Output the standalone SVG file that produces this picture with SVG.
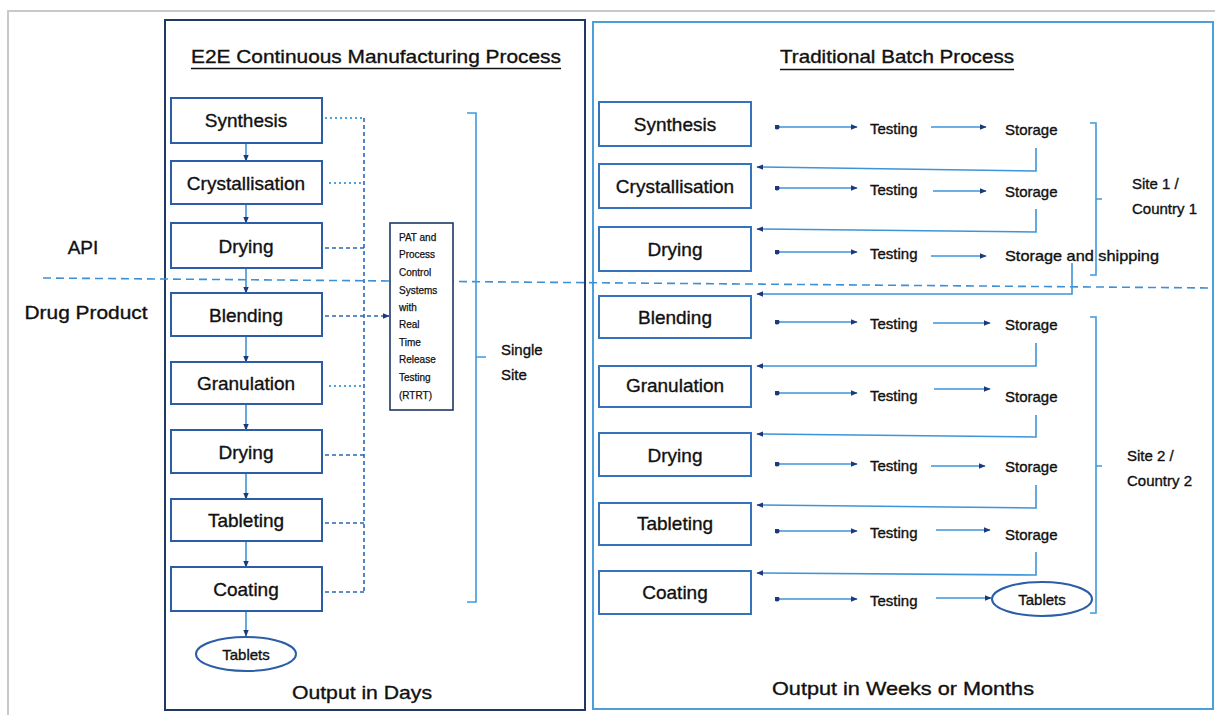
<svg xmlns="http://www.w3.org/2000/svg" width="1215" height="715" viewBox="0 0 1215 715">
  <style>
    text { font-family: "Liberation Sans", Arial, sans-serif; fill: #111; stroke: #111; stroke-width: 0.35; }
    .box { fill: #fff; stroke: #2c5ea8; stroke-width: 2; }
    .rbox { fill: #fff; stroke: #3574bd; stroke-width: 2; }
    .lbl { font-size: 19px; text-anchor: middle; dominant-baseline: central; }
    .small { font-size: 15px; dominant-baseline: central; }
    .pat { font-size: 10px; dominant-baseline: central; stroke-width: 0.25; }
    .title { font-size: 19px; text-anchor: middle; }
    .flow { fill: none; stroke: #3d94d8; stroke-width: 1.6; }
    .dot { fill: none; stroke: #4aa3e0; stroke-width: 2; stroke-dasharray: 2 3; }
    .dash { fill: none; stroke: #2a67b8; stroke-width: 1.6; stroke-dasharray: 4 3; }
    .brk { fill: none; stroke: #3d9ae0; stroke-width: 1.6; }
  </style>
  <defs>
    <marker id="ah" viewBox="0 0 10 10" refX="9" refY="5" markerWidth="7" markerHeight="7" orient="auto" markerUnits="userSpaceOnUse">
      <path d="M0,1 L10,5 L0,9 z" fill="#1c3a7a"/>
    </marker>
    <marker id="dt" viewBox="0 0 10 10" refX="5" refY="5" markerWidth="5" markerHeight="5" markerUnits="userSpaceOnUse">
      <circle cx="5" cy="5" r="5" fill="#1c3a7a"/>
    </marker>
  </defs>

  <!-- outer frame -->
  <path d="M8,715 V11 H1215" fill="none" stroke="#c9c9c9" stroke-width="2"/>

  <!-- panels -->
  <rect id="panel-continuous" x="165" y="20" width="420" height="690" fill="none" stroke="#1f3864" stroke-width="2"/>
  <rect id="panel-batch" x="593" y="22" width="620" height="687" fill="none" stroke="#4ba0dc" stroke-width="2"/>

  <!-- titles -->
  <g id="titles">
    <text class="title" x="376" y="63" textLength="370" lengthAdjust="spacingAndGlyphs">E2E Continuous Manufacturing Process</text>
    <line x1="191" y1="68.5" x2="561" y2="68.5" stroke="#111" stroke-width="1.5"/>
    <text class="title" x="897" y="63" textLength="234" lengthAdjust="spacingAndGlyphs">Traditional Batch Process</text>
    <line x1="780" y1="69.5" x2="1014" y2="69.5" stroke="#111" stroke-width="1.5"/>
  </g>

  <!-- side labels -->
  <g id="side-labels">
    <text class="lbl" x="83" y="247" font-size="20">API</text>
    <text class="lbl" x="86" y="312" textLength="123" lengthAdjust="spacingAndGlyphs">Drug Product</text>
  </g>

  <!-- API / drug product divider -->
  <line x1="43" y1="278" x2="1213" y2="288" stroke="#3d8fd6" stroke-width="1.6" stroke-dasharray="8 5"/>

  <!-- connectors -->
  <g id="connectors">
    <!-- continuous chain -->
    <line class="flow" x1="246" y1="143" x2="246" y2="161" marker-end="url(#ah)"/>
    <line class="flow" x1="246" y1="204" x2="246" y2="223" marker-end="url(#ah)"/>
    <line class="flow" x1="246" y1="268" x2="246" y2="293" marker-end="url(#ah)"/>
    <line class="flow" x1="246" y1="336" x2="246" y2="362" marker-end="url(#ah)"/>
    <line class="flow" x1="246" y1="404" x2="246" y2="430" marker-end="url(#ah)"/>
    <line class="flow" x1="246" y1="473" x2="246" y2="499" marker-end="url(#ah)"/>
    <line class="flow" x1="246" y1="541" x2="246" y2="567" marker-end="url(#ah)"/>
    <line class="flow" x1="246" y1="611" x2="246" y2="636" marker-end="url(#ah)"/>

    <!-- PAT monitoring links -->
    <line class="dash" x1="364" y1="118" x2="364" y2="592"/>
    <line class="dot" x1="325" y1="118" x2="364" y2="118"/>
    <line class="dot" x1="329" y1="183" x2="364" y2="183"/>
    <line class="dash" x1="325" y1="248" x2="364" y2="248"/>
    <line class="dash" x1="325" y1="316" x2="389" y2="316" marker-end="url(#ah)"/>
    <line class="dot" x1="329" y1="386" x2="364" y2="386"/>
    <line class="dash" x1="325" y1="455" x2="364" y2="455"/>
    <line class="dash" x1="325" y1="523" x2="364" y2="523"/>
    <line class="dash" x1="325" y1="592" x2="364" y2="592"/>

    <!-- batch rows: step -> testing -> storage -->
    <g>
      <line class="flow" x1="777" y1="127" x2="857" y2="127" marker-start="url(#dt)" marker-end="url(#ah)"/>
      <line class="flow" x1="931" y1="127" x2="986" y2="127" marker-end="url(#ah)"/>
      <line class="flow" x1="777" y1="188" x2="857" y2="188" marker-start="url(#dt)" marker-end="url(#ah)"/>
      <line class="flow" x1="933" y1="191" x2="986" y2="191" marker-end="url(#ah)"/>
      <line class="flow" x1="777" y1="252" x2="857" y2="252" marker-start="url(#dt)" marker-end="url(#ah)"/>
      <line class="flow" x1="931" y1="256" x2="986" y2="256" marker-end="url(#ah)"/>
      <line class="flow" x1="777" y1="322" x2="857" y2="322" marker-start="url(#dt)" marker-end="url(#ah)"/>
      <line class="flow" x1="933" y1="323" x2="990" y2="323" marker-end="url(#ah)"/>
      <line class="flow" x1="777" y1="393" x2="857" y2="393" marker-start="url(#dt)" marker-end="url(#ah)"/>
      <line class="flow" x1="934" y1="389" x2="990" y2="389" marker-end="url(#ah)"/>
      <line class="flow" x1="777" y1="464" x2="857" y2="464" marker-start="url(#dt)" marker-end="url(#ah)"/>
      <line class="flow" x1="931" y1="466" x2="985" y2="466" marker-end="url(#ah)"/>
      <line class="flow" x1="777" y1="531" x2="857" y2="531" marker-start="url(#dt)" marker-end="url(#ah)"/>
      <line class="flow" x1="936" y1="530" x2="990" y2="530" marker-end="url(#ah)"/>
      <line class="flow" x1="777" y1="599" x2="857" y2="599" marker-start="url(#dt)" marker-end="url(#ah)"/>
      <line class="flow" x1="936" y1="598" x2="991" y2="598" marker-end="url(#ah)"/>
    </g>

    <!-- storage hand-offs back to next step -->
    <g>
      <path class="flow" d="M1036,148 V171 L757,167" marker-end="url(#ah)"/>
      <path class="flow" d="M1036,209 V232 L757,229" marker-end="url(#ah)"/>
      <path class="flow" d="M1072,263 V294 H757" marker-end="url(#ah)"/>
      <path class="flow" d="M1036,343 V366 H757" marker-end="url(#ah)"/>
      <path class="flow" d="M1036,415 V437 L757,434" marker-end="url(#ah)"/>
      <path class="flow" d="M1036,485 V508 L757,505" marker-end="url(#ah)"/>
      <path class="flow" d="M1036,552 V575 L757,573" marker-end="url(#ah)"/>
    </g>

    <!-- site brackets -->
    <path class="brk" d="M467,113 H476 V602 H467 M476,357 H486"/>
    <path class="brk" d="M1090,123 H1096 V275 H1090 M1096,199 H1102"/>
    <path class="brk" d="M1090,317 H1096 V613 H1090 M1096,466 H1102"/>
  </g>

  <!-- continuous process nodes -->
  <g id="c-synthesis"><rect class="box" x="171" y="98" width="151" height="45"/><text class="lbl" x="246" y="120">Synthesis</text></g>
  <g id="c-crystallisation"><rect class="box" x="171" y="161" width="151" height="43"/><text class="lbl" x="246" y="183">Crystallisation</text></g>
  <g id="c-drying-api"><rect class="box" x="171" y="223" width="151" height="45"/><text class="lbl" x="246" y="246">Drying</text></g>
  <g id="c-blending"><rect class="box" x="171" y="293" width="151" height="43"/><text class="lbl" x="246" y="315">Blending</text></g>
  <g id="c-granulation"><rect class="box" x="171" y="362" width="151" height="42"/><text class="lbl" x="246" y="383">Granulation</text></g>
  <g id="c-drying-dp"><rect class="box" x="171" y="430" width="151" height="43"/><text class="lbl" x="246" y="452">Drying</text></g>
  <g id="c-tableting"><rect class="box" x="171" y="499" width="151" height="42"/><text class="lbl" x="246" y="520">Tableting</text></g>
  <g id="c-coating"><rect class="box" x="171" y="567" width="151" height="44"/><text class="lbl" x="246" y="589">Coating</text></g>
  <g id="c-tablets"><ellipse cx="246" cy="654" rx="50" ry="17" fill="#fff" stroke="#2c5ea8" stroke-width="2"/><text class="small" x="246" y="654" text-anchor="middle">Tablets</text></g>

  <g id="pat-rtrt">
    <rect x="390" y="223" width="63" height="187" fill="#fff" stroke="#1f3864" stroke-width="1.6"/>
    <text class="pat" x="399" y="237">PAT and</text>
    <text class="pat" x="399" y="254">Process</text>
    <text class="pat" x="399" y="272">Control</text>
    <text class="pat" x="399" y="290">Systems</text>
    <text class="pat" x="399" y="307">with</text>
    <text class="pat" x="399" y="324">Real</text>
    <text class="pat" x="399" y="342">Time</text>
    <text class="pat" x="399" y="359">Release</text>
    <text class="pat" x="399" y="377">Testing</text>
    <text class="pat" x="399" y="395">(RTRT)</text>
  </g>

  <g id="single-site-label">
    <text class="small" x="501" y="349" font-size="16">Single</text>
    <text class="small" x="501" y="374" font-size="16">Site</text>
  </g>

  <g id="output-days"><text class="lbl" x="362" y="692" textLength="140" lengthAdjust="spacingAndGlyphs">Output in Days</text></g>

  <!-- batch process nodes -->
  <g id="b-synthesis"><rect class="rbox" x="599" y="102" width="152" height="44"/><text class="lbl" x="675" y="124">Synthesis</text></g>
  <g id="b-crystallisation"><rect class="rbox" x="599" y="164" width="152" height="44"/><text class="lbl" x="675" y="186">Crystallisation</text></g>
  <g id="b-drying-api"><rect class="rbox" x="599" y="227" width="152" height="44"/><text class="lbl" x="675" y="249">Drying</text></g>
  <g id="b-blending"><rect class="rbox" x="599" y="296" width="152" height="42"/><text class="lbl" x="675" y="317">Blending</text></g>
  <g id="b-granulation"><rect class="rbox" x="599" y="366" width="152" height="41"/><text class="lbl" x="675" y="385">Granulation</text></g>
  <g id="b-drying-dp"><rect class="rbox" x="599" y="433" width="152" height="43"/><text class="lbl" x="675" y="455">Drying</text></g>
  <g id="b-tableting"><rect class="rbox" x="599" y="503" width="152" height="42"/><text class="lbl" x="675" y="523">Tableting</text></g>
  <g id="b-coating"><rect class="rbox" x="599" y="571" width="152" height="43"/><text class="lbl" x="675" y="592">Coating</text></g>

  <g id="b-stage-labels">
    <text class="small" x="870" y="128">Testing</text>
    <text class="small" x="1005" y="129">Storage</text>
    <text class="small" x="870" y="189">Testing</text>
    <text class="small" x="1005" y="191">Storage</text>
    <text class="small" x="870" y="253">Testing</text>
    <text class="small" x="1005" y="255" textLength="154" lengthAdjust="spacingAndGlyphs">Storage and shipping</text>
    <text class="small" x="870" y="323">Testing</text>
    <text class="small" x="1005" y="324">Storage</text>
    <text class="small" x="870" y="395">Testing</text>
    <text class="small" x="1005" y="396">Storage</text>
    <text class="small" x="870" y="465">Testing</text>
    <text class="small" x="1005" y="466">Storage</text>
    <text class="small" x="870" y="532">Testing</text>
    <text class="small" x="1005" y="534">Storage</text>
    <text class="small" x="870" y="600">Testing</text>
  </g>
  <g id="b-tablets"><ellipse cx="1042" cy="599" rx="50" ry="17" fill="#fff" stroke="#2c5ea8" stroke-width="2"/><text class="small" x="1042" y="599" text-anchor="middle">Tablets</text></g>

  <g id="site-labels">
    <text class="small" x="1132" y="183">Site 1 /</text>
    <text class="small" x="1132" y="208">Country 1</text>
    <text class="small" x="1127" y="455">Site 2 /</text>
    <text class="small" x="1127" y="480">Country 2</text>
  </g>

  <g id="output-weeks"><text class="lbl" x="903" y="688" textLength="262" lengthAdjust="spacingAndGlyphs">Output in Weeks or Months</text></g>
</svg>
